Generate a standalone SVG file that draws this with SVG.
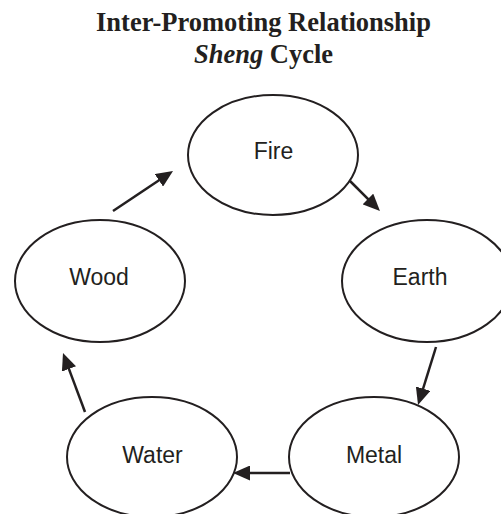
<svg xmlns="http://www.w3.org/2000/svg" width="501" height="514" viewBox="0 0 501 514">
  <style>
    .node ellipse { fill: #ffffff; stroke: #231f20; stroke-width: 2; }
    .node text { font-family: "Liberation Sans", Arial, sans-serif; font-size: 23px; fill: #231f20; text-anchor: middle; }
    .title { font-family: "Liberation Serif", "Times New Roman", serif; font-size: 26.5px; font-weight: bold; fill: #231f20; text-anchor: middle; }
    .edge { stroke: #231f20; stroke-width: 2.5; fill: none; marker-end: url(#head); }
  </style>
  <defs>
    <marker id="head" markerUnits="userSpaceOnUse" markerWidth="17" markerHeight="15" refX="7" refY="7.5" orient="auto">
      <path d="M0,0 L17,7.5 L0,15 z" fill="#231f20"/>
    </marker>
  </defs>
  <rect width="501" height="514" fill="#ffffff"/>

  <g id="title">
    <text class="title" x="263.5" y="31">Inter-Promoting Relationship</text>
    <text class="title" x="263.5" y="63"><tspan font-style="italic">Sheng</tspan> Cycle</text>
  </g>

  <g id="connectors">
    <line class="edge" x1="113" y1="211" x2="164.7" y2="176.5"/>
    <line class="edge" x1="350" y1="181" x2="372.9" y2="203.9"/>
    <line class="edge" x1="436" y1="347" x2="421" y2="395.4"/>
    <line class="edge" x1="290" y1="473" x2="243" y2="473"/>
    <line class="edge" x1="85" y1="412" x2="66.5" y2="362.4"/>
  </g>

  <g id="fire" class="node">
    <ellipse cx="273" cy="155" rx="85" ry="60"/>
    <text x="273.5" y="159">Fire</text>
  </g>
  <g id="earth" class="node">
    <ellipse cx="427" cy="281" rx="85" ry="61"/>
    <text x="420" y="285">Earth</text>
  </g>
  <g id="metal" class="node">
    <ellipse cx="374" cy="457" rx="85" ry="60"/>
    <text x="374" y="463">Metal</text>
  </g>
  <g id="water" class="node">
    <ellipse cx="152" cy="457" rx="85" ry="60"/>
    <text x="152.5" y="463">Water</text>
  </g>
  <g id="wood" class="node">
    <ellipse cx="100" cy="281" rx="85" ry="61"/>
    <text x="99" y="285">Wood</text>
  </g>
</svg>
